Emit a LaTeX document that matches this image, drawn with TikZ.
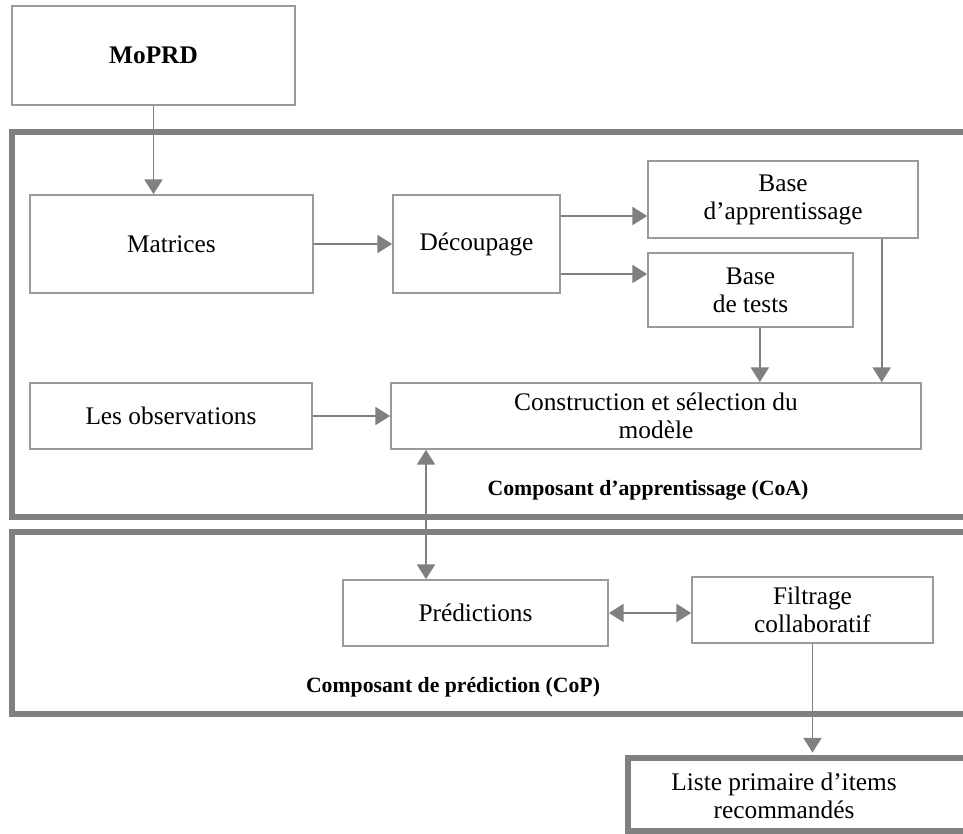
\documentclass[tikz,border=0pt]{standalone}
\usepackage{fontspec}
\setmainfont{Liberation Serif}
\usetikzlibrary{arrows.meta}

\definecolor{boxgray}{HTML}{9A9A9A}
\definecolor{arrgray}{HTML}{808080}

\begin{document}
\begin{tikzpicture}[x=0.75pt, y=-0.75pt,
  box/.style={draw=boxgray, line width=1.3pt, fill=white, align=center, inner sep=0pt,
              font=\fontsize{19}{21}\selectfont},
  frame/.style={draw=arrgray, line width=4.2pt},
  lbl/.style={font=\fontsize{16.3}{19}\selectfont\bfseries},
  arr/.style={-{Triangle[length=11pt, width=13.5pt]}, line width=1.4pt, arrgray},
  darr/.style={{Triangle[length=11pt, width=13.5pt]}-{Triangle[length=11pt, width=13.5pt]},
               line width=1.4pt, arrgray}]
  \useasboundingbox (0,0) rectangle (963,834);
  \clip (0,0) rectangle (963,834);
  % the two components
  \draw[frame] (12,132) rectangle (1000,517);
  \draw[frame] (12,532) rectangle (1000,714);
  \node[lbl] (coa) at (648,490) {Composant d’apprentissage (CoA)};
  \node[lbl] (cop) at (453,687) {Composant de prédiction (CoP)};

  \node[box, minimum width=212.25pt, minimum height=74.25pt, font=\fontsize{19}{21}\selectfont\bfseries]
    (moprd) at (153.5,55.5) {MoPRD};
  \node[box, minimum width=212.25pt, minimum height=73.5pt] (mat) at (171.5,244) {Matrices};
  \node[box, minimum width=125.25pt, minimum height=73.5pt] (dec) at (476.5,244) {Découpage};
  \node[box, minimum width=202.5pt, minimum height=57.75pt] (bapp) at (783,199.5) {Base\\d’apprentissage};
  \node[box, minimum width=153.75pt, minimum height=55.5pt] (btest) at (750.5,290) {Base\\de tests};
  \node[box, minimum width=211.5pt, minimum height=49.5pt] (obs) at (171,416) {Les observations};
  \node[box, minimum width=397.5pt, minimum height=49.5pt] (cons) at (656,416)
    {Construction et sélection du\\modèle};
  \node[box, minimum width=198.75pt, minimum height=49.5pt] (pred) at (475.5,613) {Prédictions};
  \node[box, minimum width=180.75pt, minimum height=49.5pt] (filt) at (812.5,610) {Filtrage\\collaboratif};
  \node[frame, minimum width=279pt, minimum height=54.75pt] (liste) at (814,794.5) {};
  \node[font=\fontsize{19}{21}\selectfont, align=center] (listetxt) at (784,796)
    {Liste primaire d’items\\recommandés};

  \draw[arr] (moprd.south) -- (moprd.south |- mat.north);
  \draw[arr] (mat) -- (dec);
  \draw[arr] ([yshift=21pt]dec.east) -- ([yshift=21pt]dec.east -| bapp.west);
  \draw[arr] ([yshift=-22.5pt]dec.east) -- ([yshift=-22.5pt]dec.east -| btest.west);
  \draw[arr] ([xshift=7pt]btest.south) -- ([xshift=7pt]btest.south |- cons.north);
  \draw[arr] ([xshift=74pt]bapp.south) -- ([xshift=74pt]bapp.south |- cons.north);
  \draw[arr] (obs) -- (cons);
  \draw[darr] ([xshift=-172.5pt]cons.south) -- ([xshift=-172.5pt]cons.south |- pred.north);
  \draw[darr] (pred.east) -- (pred.east -| filt.west);
  \draw[arr, shorten >=2pt] (filt.south) -- (filt.south |- liste.north);
\end{tikzpicture}
\end{document}
